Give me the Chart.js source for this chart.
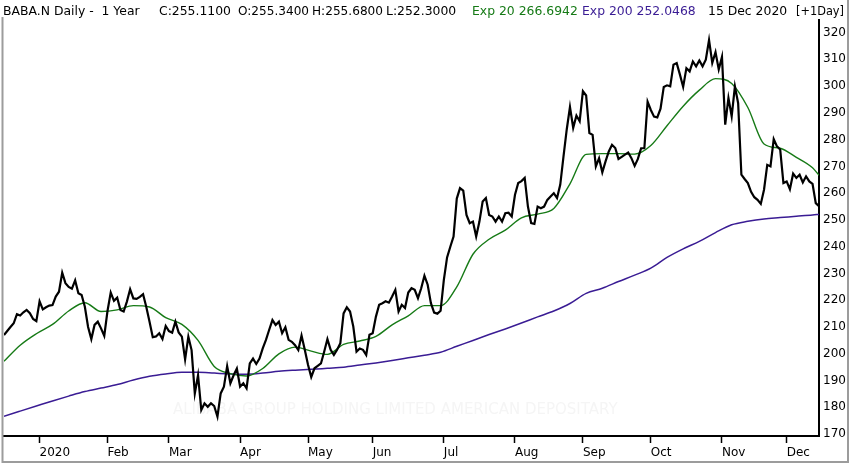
<!DOCTYPE html>
<html>
<head>
<meta charset="utf-8">
<title>BABA.N Daily - 1 Year</title>
<script src="https://cdn.jsdelivr.net/npm/chart.js@4.4.1/dist/chart.umd.min.js"></script>
<style>
    html, body { margin: 0; padding: 0; background: #fff; }
    #wrap { width: 850px; height: 465px; position: relative; }
</style>
</head>
<body>
<div id="wrap"><canvas id="chart"></canvas></div>
<script>
// Daily closes, trading day 0 = 16 Dec 2019 ... 252 = 15 Dec 2020
const closes = [
    207.0, 208.5, 210.0, 211.4, 214.8, 214.3, 215.5, 216.4, 215.2, 213.0,
    212.2, 219.6, 216.6, 217.4, 218.0, 218.2, 221.4, 223.2, 230.3, 226.4,
    225.0, 224.3, 227.4, 222.6, 222.0, 217.6, 210.0, 205.5, 210.8, 212.0,
    209.5, 206.7, 216.0, 222.9, 219.8, 221.0, 216.4, 215.8, 219.5, 224.1,
    220.7, 220.5, 221.3, 222.3, 217.5, 212.0, 206.2, 206.5, 207.7, 205.5,
    210.4, 208.5, 207.9, 212.0, 208.0, 206.4, 197.9, 206.4, 201.4, 185.2,
    192.0, 179.0, 181.5, 180.2, 181.5, 180.5, 176.5, 185.2, 187.7, 195.4,
    189.0, 192.0, 194.5, 187.7, 189.0, 187.1, 196.4, 198.2, 196.2, 198.2,
    202.0, 205.2, 209.0, 212.6, 210.8, 212.0, 207.7, 209.9, 205.2, 204.5,
    203.2, 201.4, 206.8, 201.5, 195.9, 191.3, 194.6, 195.5, 196.4, 200.8,
    205.5, 201.5, 199.6, 201.5, 204.0, 215.1, 217.4, 215.8, 210.2, 200.8,
    202.0, 201.5, 199.6, 207.1, 207.7, 213.9, 218.3, 218.9, 219.6, 219.1,
    221.4, 223.9, 215.8, 218.3, 217.1, 222.9, 224.5, 223.9, 220.8, 224.5,
    229.2, 225.8, 218.9, 215.4, 215.0, 216.1, 227.6, 236.0, 240.0, 243.8,
    258.0, 261.9, 261.0, 251.9, 248.8, 249.4, 243.8, 249.4, 256.9, 258.2,
    251.9, 251.3, 249.4, 251.3, 249.4, 252.5, 252.7, 251.3, 259.4, 263.8,
    264.5, 265.7, 255.0, 248.8, 248.5, 255.0, 254.4, 255.0, 257.5, 258.8,
    260.0, 258.2, 263.2, 273.8, 283.8, 292.2, 284.4, 289.0, 286.9, 298.1,
    296.5, 282.5, 281.8, 270.0, 273.1, 267.8, 271.9, 275.6, 278.1, 276.9,
    272.8, 273.6, 274.4, 275.2, 273.1, 270.2, 272.8, 276.8, 276.8, 294.2,
    291.1, 288.6, 288.3, 291.6, 299.7, 300.3, 299.9, 308.0, 308.6, 304.3,
    299.7, 306.7, 305.5, 309.2, 307.4, 309.6, 307.4, 309.9, 317.2, 308.7,
    312.7, 306.2, 310.9, 285.6, 295.6, 288.7, 299.9, 293.6, 266.9, 265.3,
    263.8, 260.5, 258.5, 257.5, 256.0, 261.3, 270.6, 270.0, 280.2, 277.5,
    276.3, 263.8, 264.4, 261.5, 267.3, 265.7, 266.9, 264.0, 266.3, 264.4,
    263.5, 256.3, 255.1
];

// Moving averages every 5 trading days
const emaDays = [
    0, 5, 10, 15, 20, 25, 30, 35, 40, 45, 50, 55, 60, 65, 70, 75, 80, 85, 90, 95,
    100, 105, 110, 115, 120, 125, 130, 135, 140, 145, 150, 155, 160, 165, 170, 175,
    180, 185, 190, 195, 200, 205, 210, 215, 220, 225, 230, 235, 240, 245, 250, 252
];
const exp20 = [
    197.2, 203.2, 207.5, 211.0, 216.0, 219.1, 215.8, 216.4, 218.0, 217.5,
    213.5, 211.0, 205.0, 195.3, 192.6, 191.7, 194.5, 200.0, 202.5, 201.0,
    199.8, 203.5, 204.8, 206.5, 210.8, 214.2, 218.0, 218.0, 225.0, 237.2,
    242.8, 246.2, 250.8, 252.2, 254.3, 263.5, 274.5, 274.8, 274.8, 274.6,
    277.8, 285.2, 292.5, 298.5, 302.8, 301.0, 292.0, 278.4, 276.8, 273.4,
    269.5, 266.7
];
const exp200 = [
    176.7, 178.6, 180.5, 182.4, 184.2, 185.9, 187.2, 188.5, 190.2, 191.6,
    192.5, 193.1, 193.1, 192.8, 192.5, 192.4, 192.8, 193.5, 193.9, 194.2,
    194.6, 195.0, 195.8, 196.6, 197.5, 198.5, 199.5, 200.6, 202.8, 205.0,
    207.2, 209.3, 211.5, 213.8, 216.0, 218.8, 222.6, 224.5, 227.0, 229.4,
    232.0, 236.0, 239.2, 242.0, 245.3, 248.2, 249.5, 250.4, 250.9, 251.4,
    251.9, 252.05
];

// First trading day of each month and its label
const monthTicks = [11, 32, 51, 73, 94, 114, 136, 158, 179, 200, 222, 242];
const monthLabels = ['2020', 'Feb', 'Mar', 'Apr', 'May', 'Jun', 'Jul', 'Aug', 'Sep', 'Oct', 'Nov', 'Dec'];

const priceTicks = [170, 180, 190, 200, 210, 220, 230, 240, 250, 260, 270, 280, 290, 300, 310, 320];

const GREEN = '#167a16';
const PURPLE = '#3a1c94';
const FONT = '"DejaVu Sans", "Noto Sans", sans-serif';

// Header line, frame and faint watermark
const decorPlugin = {
    id: 'decor',
    beforeDatasetsDraw(chart) {
        const ctx = chart.ctx;
        ctx.save();
        ctx.fillStyle = '#f5f5f5';
        ctx.font = '15px ' + FONT;
        ctx.textBaseline = 'middle';
        ctx.fillText('ALIBABA GROUP HOLDING LIMITED AMERICAN DEPOSITARY', 173, 410, 470);
        ctx.restore();
    },
    afterDraw(chart) {
        const ctx = chart.ctx;
        ctx.save();
        ctx.font = '12.4px ' + FONT;
        ctx.textBaseline = 'middle';
        // text, left x, max width, colour
        const parts = [
            ['BABA.N Daily -  1 Year', 3, 143, '#000'],
            ['C:255.1100', 159, 74, '#000'],
            ['O:255.3400', 238, 71, '#000'],
            ['H:255.6800', 312, 71, '#000'],
            ['L:252.3000', 386, 80, '#000'],
            ['Exp 20 266.6942', 472, 107, GREEN],
            ['Exp 200 252.0468', 582, 119, PURPLE],
            ['15 Dec 2020', 708, 81, '#000'],
            ['[+1Day]', 796, 48, '#000']
        ];
        parts.forEach(([text, x, w, color]) => {
            ctx.fillStyle = color;
            ctx.fillText(text, x, 12, w);
        });

        // window frame
        ctx.strokeStyle = '#9c9c9c';
        ctx.lineWidth = 2;
        ctx.beginPath();
        ctx.moveTo(2.5, 17);
        ctx.lineTo(2.5, 462);
        ctx.lineTo(848, 462);
        ctx.lineTo(848, 0);
        ctx.stroke();
        ctx.restore();
    }
};

const ctx = document.getElementById('chart').getContext('2d');
new Chart(ctx, {
    type: 'line',
    data: {
        datasets: [
            {
                label: 'Close',
                data: closes.map((v, i) => ({ x: i, y: v })),
                borderColor: '#000',
                borderWidth: 2.2,
                pointRadius: 0,
                tension: 0
            },
            {
                label: 'Exp 20',
                data: emaDays.map((d, i) => ({ x: d, y: exp20[i] })),
                borderColor: GREEN,
                borderWidth: 1.4,
                pointRadius: 0,
                cubicInterpolationMode: 'monotone'
            },
            {
                label: 'Exp 200',
                data: emaDays.map((d, i) => ({ x: d, y: exp200[i] })),
                borderColor: PURPLE,
                borderWidth: 1.5,
                pointRadius: 0,
                cubicInterpolationMode: 'monotone'
            }
        ]
    },
    options: {
        responsive: true,
        maintainAspectRatio: false,
        animation: false,
        layout: { padding: { left: 4, top: 20, right: 0, bottom: 0 } },
        plugins: {
            legend: { display: false },
            tooltip: { enabled: false }
        },
        scales: {
            x: {
                type: 'linear',
                min: 0,
                max: 252,
                afterBuildTicks: (scale) => {
                    scale.ticks = monthTicks.map(v => ({ value: v }));
                },
                afterFit: (scale) => { scale.height = 29; },
                grid: {
                    drawOnChartArea: false,
                    drawTicks: true,
                    tickLength: 7,
                    tickWidth: 1.5,
                    tickColor: '#000'
                },
                border: { display: true, color: '#000', width: 2 },
                ticks: {
                    autoSkip: false,
                    maxRotation: 0,
                    align: 'start',
                    padding: 3,
                    color: '#000',
                    font: { family: FONT, size: 12 },
                    callback: (value) => monthLabels[monthTicks.indexOf(value)]
                }
            },
            y: {
                position: 'right',
                min: 169.3,
                max: 324.7,
                afterBuildTicks: (scale) => {
                    scale.ticks = priceTicks.map(v => ({ value: v }));
                },
                afterFit: (scale) => { scale.width = 31; },
                grid: { drawOnChartArea: false, drawTicks: false },
                border: { display: true, color: '#000', width: 2 },
                ticks: {
                    autoSkip: false,
                    padding: 4,
                    color: '#000',
                    font: { family: FONT, size: 12 },
                    callback: (value) => value
                }
            }
        }
    },
    plugins: [decorPlugin]
});
</script>
</body>
</html>
